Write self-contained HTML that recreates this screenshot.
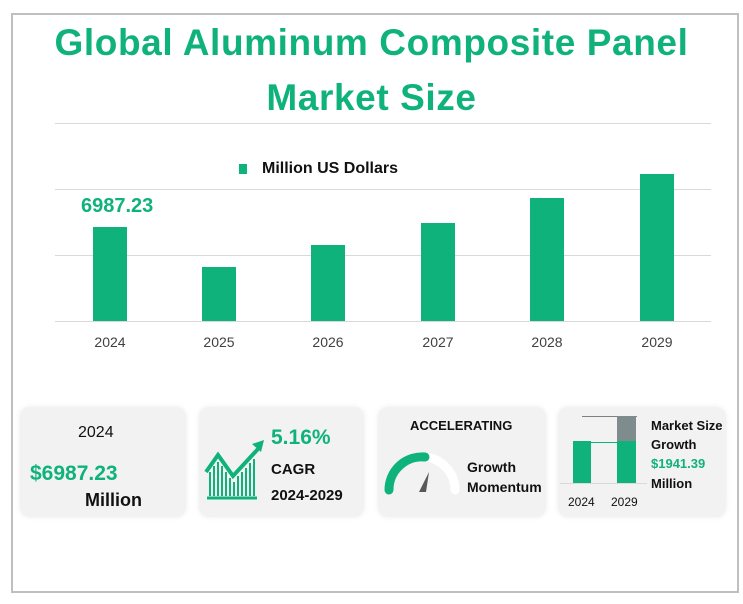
<!DOCTYPE html>
<html><head><meta charset="utf-8"><style>
body{margin:0;width:743px;height:604px;background:#fff;font-family:"Liberation Sans","DejaVu Sans",sans-serif;position:relative;overflow:hidden}
.b{position:absolute;left:11px;top:13px;width:724px;height:576px;border:2px solid #bfbfbf}
.t{position:absolute;left:0;width:743px;text-align:center;color:#10b27c;font-weight:bold;font-size:37px;letter-spacing:0.6px}
.g{position:absolute;left:55px;width:656px;height:1px;background:#d9d9d9}
.bar{position:absolute;width:34px;background:#10b27c}
.xl{position:absolute;top:334px;font-size:14px;color:#404040;width:60px;text-align:center}
.c{position:absolute;top:407px;height:110px;background:#f2f2f2;border-radius:10px;box-shadow:0 0 6px rgba(0,0,0,0.08)}
.a{position:absolute;font-weight:bold;font-size:14px;color:#111}
</style></head><body>
<div class="b"></div>
<div class="t" style="top:22px">Global Aluminum Composite Panel</div>
<div class="t" style="top:77px">Market Size</div>
<div class="g" style="top:123px"></div><div class="g" style="top:189px"></div><div class="g" style="top:255px"></div><div class="g" style="top:321px"></div>
<div style="position:absolute;left:239px;top:164px;width:8px;height:10px;background:#10b27c"></div>
<div class="a" style="left:262px;top:160px;font-size:16px">Million US Dollars</div>
<div style="position:absolute;left:81px;top:195px;font-size:20px;font-weight:bold;color:#10b27c">6987.23</div>
<div class="bar" style="left:93px;top:227px;height:94px"></div>
<div class="bar" style="left:202px;top:267px;height:54px"></div>
<div class="bar" style="left:311px;top:245px;height:76px"></div>
<div class="bar" style="left:421px;top:223px;height:98px"></div>
<div class="bar" style="left:530px;top:198px;height:123px"></div>
<div class="bar" style="left:640px;top:174px;height:147px"></div>
<div class="xl" style="left:80px">2024</div><div class="xl" style="left:189px">2025</div><div class="xl" style="left:298px">2026</div><div class="xl" style="left:408px">2027</div><div class="xl" style="left:517px">2028</div><div class="xl" style="left:627px">2029</div>

<div class="c" style="left:20px;width:166px"></div>
<div style="position:absolute;left:78px;top:424px;font-size:16px;color:#111">2024</div>
<div style="position:absolute;left:30px;top:462px;font-size:21px;font-weight:bold;color:#10b27c">$6987.23</div>
<div style="position:absolute;left:85px;top:490px;font-size:18px;font-weight:bold;color:#111">Million</div>

<div class="c" style="left:199px;width:165px"></div>
<svg style="position:absolute;left:199px;top:420px" width="70" height="90" viewBox="199 420 70 90">
<polyline points="206,472 218,455 233,476 258,449" fill="none" stroke="#10b27c" stroke-width="4"/>
<polygon points="252,444 264,440 261,452" fill="#10b27c"/>
<g stroke="#10b27c" stroke-width="2"><line x1="210" y1="472" x2="210" y2="496"/><line x1="214" y1="466" x2="214" y2="496"/><line x1="218" y1="462" x2="218" y2="496"/><line x1="222" y1="466" x2="222" y2="496"/><line x1="226" y1="472" x2="226" y2="496"/><line x1="230" y1="478" x2="230" y2="496"/><line x1="234" y1="482" x2="234" y2="496"/><line x1="238" y1="476" x2="238" y2="496"/><line x1="242" y1="472" x2="242" y2="496"/><line x1="246" y1="468" x2="246" y2="496"/><line x1="250" y1="463" x2="250" y2="496"/><line x1="254" y1="459" x2="254" y2="496"/></g>
<line x1="207" y1="498" x2="257" y2="498" stroke="#10b27c" stroke-width="3"/>
</svg>
<div style="position:absolute;left:271px;top:426px;font-size:21px;font-weight:bold;color:#10b27c">5.16%</div>
<div class="a" style="left:271px;top:461px;font-size:15px">CAGR</div>
<div class="a" style="left:271px;top:487px;font-size:15px">2024-2029</div>

<div class="c" style="left:378px;width:168px"></div>
<div class="a" style="left:410px;top:418px;font-size:13px">ACCELERATING</div>
<svg style="position:absolute;left:378px;top:445px" width="90" height="55" viewBox="378 445 90 55">
<path d="M389,490 A33,33 0 0 1 455,490" fill="none" stroke="#fff" stroke-width="9" stroke-linecap="round"/>
<path d="M389,490 A33,33 0 0 1 425,457" fill="none" stroke="#10b27c" stroke-width="9" stroke-linecap="round"/>
<polygon points="419,492 426,492 429,472" fill="#595959"/>
</svg>
<div class="a" style="left:467px;top:459px">Growth</div>
<div class="a" style="left:467px;top:479px">Momentum</div>

<div class="c" style="left:558px;width:168px"></div>
<div style="position:absolute;left:582px;top:416px;width:55px;height:1px;background:#808080"></div>
<div style="position:absolute;left:617px;top:416px;width:19px;height:25px;background:#7f8c8d"></div>
<div style="position:absolute;left:573px;top:441px;width:18px;height:42px;background:#10b27c"></div>
<div style="position:absolute;left:591px;top:442px;width:26px;height:1px;background:#10b27c"></div>
<div style="position:absolute;left:617px;top:441px;width:19px;height:42px;background:#10b27c"></div>
<div style="position:absolute;left:560px;top:483px;width:87px;height:1px;background:#d9d9d9"></div>
<div style="position:absolute;left:568px;top:495px;font-size:12px;color:#111">2024</div>
<div style="position:absolute;left:611px;top:495px;font-size:12px;color:#111">2029</div>
<div class="a" style="left:651px;top:418px;font-size:13px">Market Size</div>
<div class="a" style="left:651px;top:437px;font-size:13px">Growth</div>
<div class="a" style="left:651px;top:456px;font-size:13px;color:#10b27c">$1941.39</div>
<div class="a" style="left:651px;top:476px;font-size:13px">Million</div>
</body></html>
